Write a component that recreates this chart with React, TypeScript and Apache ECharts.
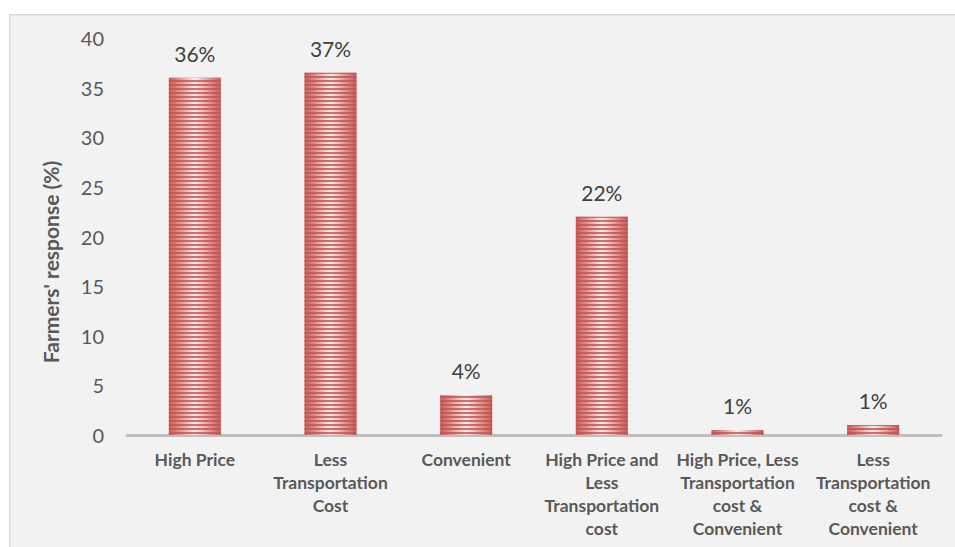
import React, { useEffect, useRef } from "react";
import * as echarts from "echarts";

const categories = [
  "High Price",
  "Less\nTransportation\nCost",
  "Convenient",
  "High Price and\nLess\nTransportation\ncost",
  "High Price, Less\nTransportation\ncost &\nConvenient",
  "Less\nTransportation\ncost &\nConvenient",
];
const responses = [36, 36.5, 4, 22, 0.5, 1];
const dataLabels = ["36%", "37%", "4%", "22%", "1%", "1%"];
const yTitle = "Farmers' response (%)";

const FONT = "Lato, 'Open Sans', sans-serif";

export default function App() {
  const ref = useRef<HTMLDivElement>(null);
  useEffect(() => {
    if (!ref.current) return;
    const chart = echarts.init(ref.current, undefined, { renderer: "svg" });
    chart.setOption({
      animation: false,
      backgroundColor: "#ffffff",
      textStyle: { fontFamily: FONT },
      graphic: [
        {
          type: "rect",
          left: 9,
          top: 14,
          z: -10,
          silent: true,
          shape: { width: 960, height: 545 },
          style: { fill: "#f2f2f2", stroke: "#d9d9d9", lineWidth: 1.5 },
        },
        {
          type: "text",
          x: 50,
          y: 262,
          rotation: Math.PI / 2,
          style: {
            text: yTitle,
            fontFamily: FONT,
            fontSize: 21,
            fontWeight: "bold",
            fill: "#595959",
            align: "center",
            verticalAlign: "middle",
          },
        },
      ],
      grid: { left: 127, right: 14, top: 38, bottom: 112, containLabel: false },
      xAxis: {
        type: "category",
        data: categories,
        axisLine: { show: true, lineStyle: { color: "#bfbfbf", width: 3 } },
        axisTick: { show: false },
        axisLabel: {
          interval: 0,
          margin: 13,
          fontFamily: FONT,
          fontSize: 17.5,
          fontWeight: "bold",
          color: "#595959",
          lineHeight: 23,
          align: "center",
        },
      },
      yAxis: {
        type: "value",
        min: 0,
        max: 40,
        interval: 5,
        axisLine: { show: false },
        axisTick: { show: false },
        splitLine: { show: false },
        axisLabel: { fontFamily: FONT, fontSize: 20, color: "#595959", margin: 23 },
      },
      series: [
        {
          type: "bar",
          data: responses,
          barWidth: 52,
          itemStyle: {
            color: {
              type: "linear",
              x: 0,
              y: 0,
              x2: 1,
              y2: 0,
              colorStops: [
                { offset: 0, color: "#c55a57" },
                { offset: 0.5, color: "#fbeceb" },
                { offset: 1, color: "#c55a57" },
              ],
            },
            decal: {
              symbol: "rect",
              symbolSize: 1,
              dashArrayX: [1, 0],
              dashArrayY: [2, 1.8],
              color: "rgba(196,82,79,0.8)",
              rotation: 0,
            },
          },
          label: {
            show: true,
            position: "top",
            distance: 14,
            fontFamily: FONT,
            fontSize: 21,
            color: "#404040",
            formatter: (p: any) => dataLabels[p.dataIndex],
          },
        },
      ],
    });
    return () => chart.dispose();
  }, []);
  return (
    <div
      ref={ref}
      style={{ position: "fixed", left: 0, top: 0, width: 955, height: 547 }}
    />
  );
}
